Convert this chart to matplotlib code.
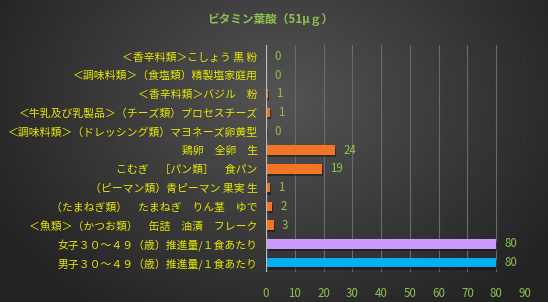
import numpy as np
import matplotlib
matplotlib.use("Agg")
import matplotlib.pyplot as plt

plt.rcParams['font.family'] = ['Noto Sans CJK JP', 'DejaVu Sans']

title = "ビタミン葉酸（51μｇ）"
categories = [
    "＜香辛料類＞こしょう 黒 粉",
    "＜調味料類＞（食塩類）精製塩家庭用",
    "＜香辛料類＞バジル　粉",
    "＜牛乳及び乳製品＞（チーズ類）プロセスチーズ",
    "＜調味料類＞（ドレッシング類）マヨネーズ卵黄型",
    "鶏卵　全卵　生",
    "こむぎ　［パン類］　食パン",
    "（ピーマン類）青ピーマン 果実 生",
    "（たまねぎ類）　たまねぎ　りん茎　ゆで",
    "＜魚類＞（かつお類）　缶詰　油漬　フレーク",
    "女子３０～４９（歳）推進量/１食あたり",
    "男子３０～４９（歳）推進量/１食あたり",
]
values = [0.0, 0.0, 0.6, 1.3, 0.2, 24.0, 19.4, 1.3, 2.2, 2.8, 80.0, 80.0]
colors = ["#F07524"] * 10 + ["#CC99FF", "#00B0F0"]
xticks = [0, 10, 20, 30, 40, 50, 60, 70, 80, 90]

W, H = 548, 302
fig = plt.figure(figsize=(W / 100, H / 100), dpi=100)

# background radial gradient
bg = fig.add_axes([0, 0, 1, 1])
yy, xx = np.mgrid[0:H, 0:W]
cx, cy = 280, 100
d = np.sqrt(((xx - cx) / 330.0) ** 2 + ((yy - cy) / 260.0) ** 2)
d = np.clip(d, 0, 1)
c0, c1 = 0x54, 0x22
g = (c0 + (c1 - c0) * d) / 255.0
img = np.dstack([g, g, g])
bg.imshow(img, aspect='auto', extent=[0, 1, 0, 1])
bg.axis('off')

ax = fig.add_axes([266 / W, 1 - 272 / H, (525 - 266) / W, (272 - 45) / H])
ax.set_facecolor('none')
y = np.arange(len(categories))
# shadows
ax.barh(y + 0.12, values, height=0.5, color='#111111', alpha=0.5,
        left=0.35, zorder=2)
ax.barh(y, values, height=0.5, color=colors, zorder=3)
for yi, v in zip(y, values):
    ax.text(v + 2.8, yi, f"{round(v):d}", va='center', ha='left',
            color='#8FC050', fontsize=8.3, zorder=4)

ax.set_xlim(0, 90)
ax.set_ylim(len(categories) - 0.5, -0.6)
ax.set_xticks(xticks)
ax.set_xticklabels([str(t) for t in xticks], color='#8FC050', fontsize=8.3)
ax.set_yticks(y)
ax.set_yticklabels(categories, color='#E8E800', fontsize=7.8)
ax.tick_params(axis='both', length=0)
ax.tick_params(axis='y', pad=6)
ax.tick_params(axis='x', pad=11)
ax.grid(axis='x', color='#6A6A6A', linewidth=0.8, zorder=1)
ax.axvline(0, color='#BBBBBB', linewidth=0.9, zorder=4)
for s in ax.spines.values():
    s.set_visible(False)

fig.text(270 / W, 1 - 19 / H, title, ha='center', va='center',
         color='#8FC050', fontsize=8.4, fontweight='bold')

fig.savefig("out.png", dpi=100)
